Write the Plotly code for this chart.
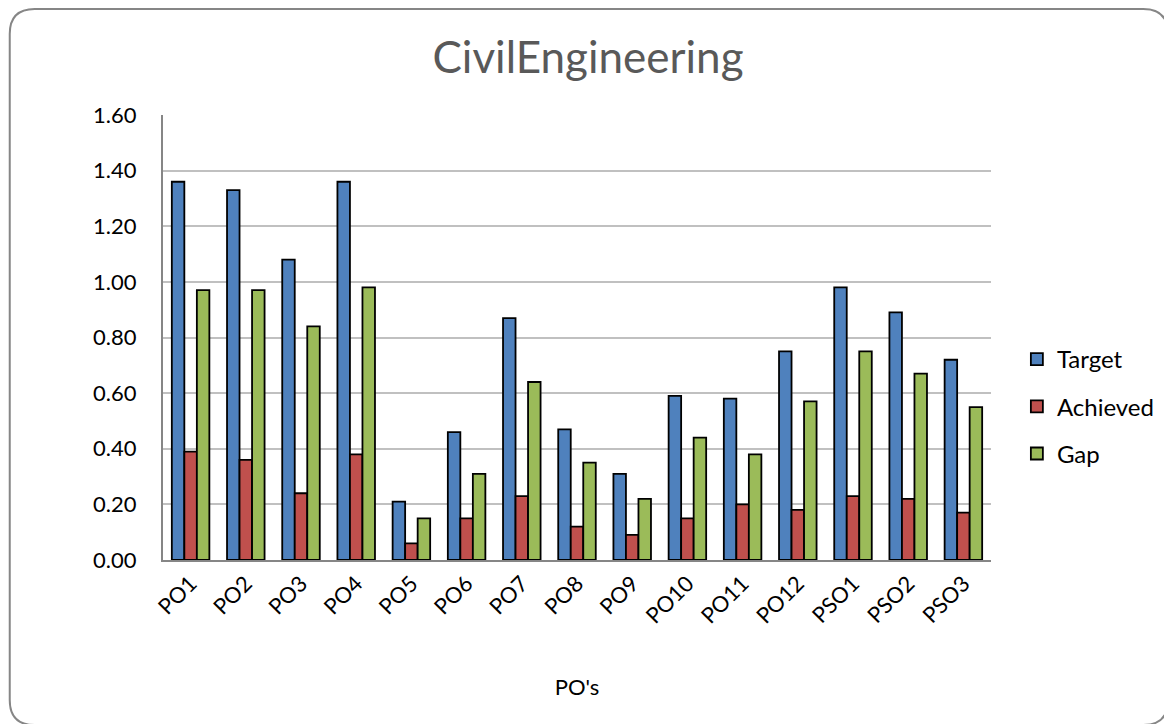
import plotly.graph_objects as go

categories = ["PO1", "PO2", "PO3", "PO4", "PO5", "PO6", "PO7", "PO8", "PO9",
              "PO10", "PO11", "PO12", "PSO1", "PSO2", "PSO3"]
target = [1.36, 1.33, 1.08, 1.36, 0.21, 0.46, 0.87, 0.47, 0.31, 0.59, 0.58, 0.75, 0.98, 0.89, 0.72]
achieved = [0.39, 0.36, 0.24, 0.38, 0.06, 0.15, 0.23, 0.12, 0.09, 0.15, 0.20, 0.18, 0.23, 0.22, 0.17]
gap = [0.97, 0.97, 0.84, 0.98, 0.15, 0.31, 0.64, 0.35, 0.22, 0.44, 0.38, 0.57, 0.75, 0.67, 0.55]
y_ticks = [0, 0.2, 0.4, 0.6, 0.8, 1.0, 1.2, 1.4, 1.6]

# page has 8px body margin, so work in figure coords = page coords - 8
OFF = 8
W, H = 1164, 716
L, T = 163 - OFF, 115 - OFF
R, B = W - (995 - OFF), H - (560 - OFF)
pw, ph = W - L - R, H - T - B

FONT = "Lato"

fig = go.Figure()
for name, vals, col in [("Target", target, "#4f81bd"),
                        ("Achieved", achieved, "#c0504d"),
                        ("Gap", gap, "#9bbb59")]:
    fig.add_trace(go.Bar(name=name, x=categories, y=vals, legendgroup=name,
                         marker=dict(color=col, line=dict(color="black", width=1.8))))

# rounded chart border, in paper coords
def px2x(p): return (p - OFF - L) / pw
def px2y(p): return (H - B - (p - OFF)) / ph
x0, x1, y0, y1 = px2x(9), px2x(1173), px2y(725), px2y(9)
rx, ry = 25 / pw, 25 / ph
path = (f"M {x0+rx},{y1} L {x1-rx},{y1} Q {x1},{y1} {x1},{y1-ry} "
        f"L {x1},{y0+ry} Q {x1},{y0} {x1-rx},{y0} L {x0+rx},{y0} "
        f"Q {x0},{y0} {x0},{y0+ry} L {x0},{y1-ry} Q {x0},{y1} {x0+rx},{y1} Z")
fig.add_shape(type="path", path=path, xref="paper", yref="paper",
              line=dict(color="#868686", width=2), layer="below")

fig.update_layout(
    width=W, height=H,
    margin=dict(l=L, r=R, t=T, b=B),
    paper_bgcolor="white", plot_bgcolor="white",
    barmode="group", bargap=0.32, bargroupgap=0,
    title=dict(text="CivilEngineering", x=(588 - OFF) / W, xanchor="center",
               y=1 - (58 - OFF) / H, yanchor="middle",
               font=dict(family=FONT, size=44, color="#595959")),
    font=dict(family=FONT, size=22, color="black"),
    legend=dict(x=px2x(1021), y=px2y(337), xanchor="left", yanchor="top",
                font=dict(size=24), tracegroupgap=13, traceorder="grouped",
                itemwidth=30),
    xaxis=dict(title=dict(text="PO's", font=dict(size=22), standoff=52),
               tickangle=-45, showline=True, linecolor="#868686", linewidth=2,
               ticks="", showgrid=False),
    yaxis=dict(range=[0, 1.6], tickvals=y_ticks, tickformat=".2f",
               showline=True, linecolor="#868686", linewidth=2,
               gridcolor="#c0c0c0", gridwidth=1.5, zeroline=False, ticks="",
               ticklabelstandoff=20),
)

fig.write_html("out.html")
